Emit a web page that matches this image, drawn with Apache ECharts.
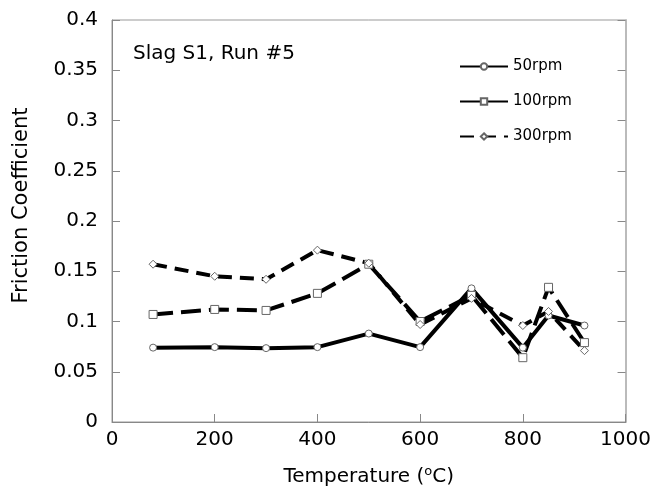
<!DOCTYPE html>
<html>
<head>
<meta charset="utf-8">
<script src="https://cdn.jsdelivr.net/npm/echarts@6/dist/echarts.min.js"></script>
<style>html,body{margin:0;padding:0;background:#fff}#c{width:654px;height:494px}</style>
</head>
<body>
<div id="c"></div>
<script>
const temperatures = [80, 200, 300, 400, 500, 600, 700, 800, 850, 920];
const rpm50 = [0.074, 0.0745, 0.0735, 0.0745, 0.088, 0.0745, 0.133, 0.074, 0.106, 0.096];
const rpm100 = [0.107, 0.112, 0.111, 0.128, 0.157, 0.1, 0.126, 0.064, 0.134, 0.079];
const rpm300 = [0.157, 0.145, 0.142, 0.171, 0.158, 0.097, 0.123, 0.096, 0.110, 0.071];
const seriesNames = ['50rpm', '100rpm', '300rpm'];
const annotation = 'Slag S1, Run #5';

const FONT = 'DejaVu Sans';
const pairs = arr => temperatures.map((t, i) => [t, arr[i]]);
const markerStyle = {color: '#fff', borderColor: '#666', borderWidth: 1};

const chart = echarts.init(document.getElementById('c'), null, {renderer: 'canvas'});
chart.setOption({
  animation: false,
  backgroundColor: '#fff',
  textStyle: {fontFamily: FONT},
  grid: {left: 112, right: 23, top: 20, bottom: 72, show: true, borderColor: '#999', borderWidth: 1},
  legend: {
    orient: 'vertical', left: 454, top: 54, itemWidth: 48, itemHeight: 8, itemGap: 20,
    textStyle: {fontFamily: FONT, fontSize: 15, color: '#000'},
    data: seriesNames
  },
  graphic: [{
    type: 'text', left: 133, top: 44,
    style: {text: annotation, fontFamily: FONT, fontSize: 20, fill: '#000'}
  }],
  xAxis: {
    type: 'value', min: 0, max: 1000, interval: 200,
    name: 'Temperature ({sup|o}C)',
    nameLocation: 'middle', nameGap: 43,
    nameTextStyle: {
      fontFamily: FONT, fontSize: 20, color: '#000',
      rich: {sup: {fontFamily: FONT, fontSize: 13, verticalAlign: 'top', color: '#000', padding: [0, 0, 10, 0]}}
    },
    axisLine: {lineStyle: {color: '#888'}},
    axisTick: {inside: true, length: 8, lineStyle: {color: '#888'}},
    axisLabel: {fontFamily: FONT, fontSize: 20, color: '#000', margin: 8, formatter: v => String(v)},
    splitLine: {show: false}
  },
  yAxis: [{
    type: 'value', min: 0, max: 0.4, interval: 0.05,
    name: 'Friction Coefficient', nameLocation: 'middle', nameGap: 80,
    nameTextStyle: {fontFamily: FONT, fontSize: 21, color: '#000', padding: [0, 0, 0, 31]},
    axisLine: {show: true, lineStyle: {color: '#888'}},
    axisTick: {show: true, inside: true, length: 8, lineStyle: {color: '#888'}},
    axisLabel: {fontFamily: FONT, fontSize: 20, color: '#000', margin: 14},
    splitLine: {show: false}
  }, {
    type: 'value', min: 0, max: 0.4, interval: 0.05, position: 'right',
    axisLine: {show: true, lineStyle: {color: '#bbb', width: 2}},
    axisTick: {show: true, inside: true, length: 8, lineStyle: {color: '#888'}},
    axisLabel: {show: false},
    splitLine: {show: false}
  }],
  series: [{
    name: seriesNames[0], type: 'line', data: pairs(rpm50),
    symbol: 'circle', symbolSize: 7, itemStyle: markerStyle,
    lineStyle: {color: '#000', width: 4, type: 'solid'}
  }, {
    name: seriesNames[1], type: 'line', data: pairs(rpm100),
    symbol: 'rect', symbolSize: 8, itemStyle: markerStyle,
    lineStyle: {color: '#000', width: 4, type: [20, 8]}
  }, {
    name: seriesNames[2], type: 'line', data: pairs(rpm300),
    symbol: 'diamond', symbolSize: 8, itemStyle: markerStyle,
    lineStyle: {color: '#000', width: 4, type: [14, 8]}
  }]
});
</script>
</body>
</html>
